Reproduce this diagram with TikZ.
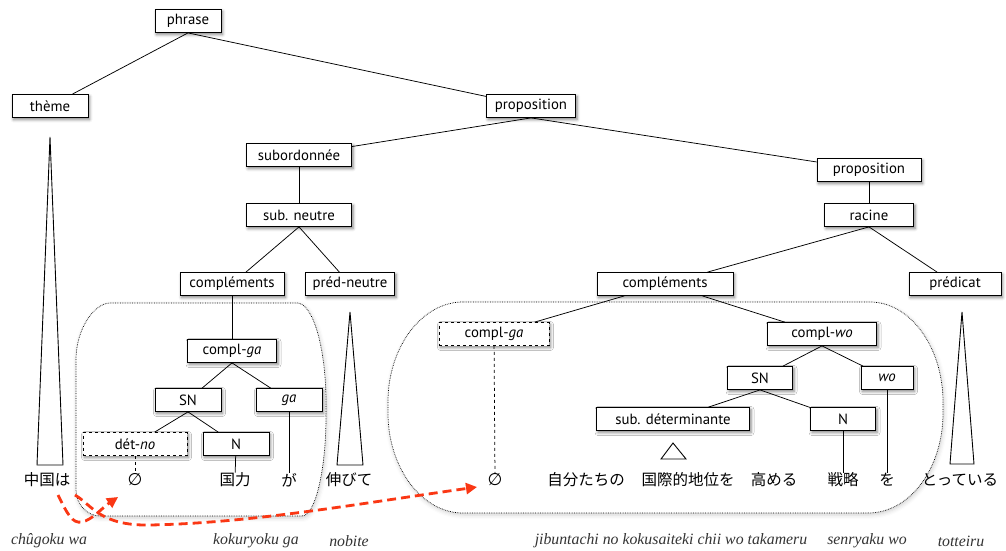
\documentclass[tikz,border=0pt]{standalone}
\usepackage{fontspec}
\setmainfont{PT Sans}
\newfontfamily\jfont{Noto Sans CJK JP}
\newfontfamily\romfont{Liberation Serif}
\newfontfamily\symfont{DejaVu Sans}
\usetikzlibrary{arrows.meta,shadows.blur}
\definecolor{arrred}{RGB}{250,55,20}
\begin{document}
\begin{tikzpicture}[x=1pt,y=-1pt,
  box/.style={draw, fill=white, line width=0.8pt, minimum height=23pt, inner sep=0pt,
    font=\fontsize{14.8}{16}\selectfont,
    blur shadow={shadow xshift=1.5pt, shadow yshift=-2pt, shadow blur radius=3pt, shadow opacity=50}},
  dbox/.style={box, dashed},
  jp/.style={font=\jfont\fontsize{15.5}{17}\selectfont, inner sep=0pt},
  emp/.style={font=\symfont\fontsize{17}{18}\selectfont, inner sep=0pt},
  rom/.style={font=\romfont\itshape\fontsize{15.8}{17}\selectfont, inner sep=0pt, text=black!80},
  edge/.style={line width=0.75pt},
  dedge/.style={line width=0.75pt, dashed},
  tri/.style={draw, fill=white, line width=0.9pt, line join=miter},
  region/.style={draw, densely dotted, line width=0.7pt, fill=white,
    blur shadow={shadow xshift=1pt, shadow yshift=-2pt, shadow blur radius=4pt, shadow opacity=18}},
  redarrow/.style={draw=arrred, line width=2.8pt, dash pattern=on 9pt off 5pt,
    -{Triangle[length=11pt,width=11pt]}}
]
\useasboundingbox (0,0) rectangle (1006,551);

% dashed regions
\path[region] (110,303) -- (297,303)
  .. controls (313,303) and (326,348) .. (326,403)
  -- (326,416)
  .. controls (326,471) and (315,516) .. (302,516)
  -- (100,516)
  .. controls (87,516) and (76,504) .. (76,490)
  -- (76,360)
  .. controls (76,328) and (95,303) .. (110,303) -- cycle;
\path[region] (463,302) -- (870,302)
  .. controls (910,302) and (943,347) .. (943,402)
  -- (943,413)
  .. controls (943,468) and (910,513) .. (868,513)
  -- (463,513)
  .. controls (422,513) and (388,468) .. (388,413)
  -- (388,402)
  .. controls (388,347) and (422,302) .. (463,302) -- cycle;

% triangles
\path[tri] (50,137) -- (63,465) -- (37,465) -- cycle;
\path[tri] (350,312) -- (363,465) -- (337,465) -- cycle;
\path[tri] (962,312) -- (974,464) -- (950,464) -- cycle;
\path[tri] (673,443) -- (686,459) -- (661,459) -- cycle;

% boxes
\node[box, minimum width=66pt] (phrase) at (188,21) {phrase};
\node[box, minimum width=76pt] (theme) at (50,106) {thème};
\node[box, minimum width=89pt] (prop1) at (531,106) {proposition};
\node[box, minimum width=105pt] (sub) at (299,155) {subordonnée};
\node[box, minimum width=105pt] (subn) at (299,215) {sub. neutre};
\node[box, minimum width=104pt] (complL) at (232,284) {compléments};
\node[box, minimum width=89pt] (predn) at (350,284) {préd-neutre};
\node[box, minimum width=104pt] (prop2) at (869,170) {proposition};
\node[box, minimum width=89pt] (racine) at (869,215) {racine};
\node[box, minimum width=136pt] (complR) at (665,284) {compléments};
\node[box, minimum width=92pt] (predicat) at (955,284) {prédicat};
\node[box, minimum width=89pt] (complgaL) at (232,351) {compl-\textit{ga}};
\node[box, minimum width=66pt] (SNL) at (188,400) {SN};
\node[box, minimum width=66pt] (gaL) at (289,400) {\textit{ga}};
\node[dbox, minimum width=104pt] (detno) at (135,444) {dét-\textit{no}};
\node[box, minimum width=66pt] (NL) at (236,444) {N};
\node[dbox, minimum width=110pt] (complgaR) at (494,334) {compl-\textit{ga}};
\node[box, minimum width=109pt] (complwo) at (822,334) {compl-\textit{wo}};
\node[box, minimum width=65pt] (SNR) at (760,378) {SN};
\node[box, minimum width=52pt] (woB) at (887,378) {\textit{wo}};
\node[box, minimum width=153pt] (subdet) at (673,419) {sub. déterminante};
\node[box, minimum width=65pt] (NR) at (843,419) {N};

% words
\node[jp] (chugoku) at (47,480) {中国は};
\node[emp] (emptyL) at (135,480) {∅};
\node[jp] (kokuryoku) at (235,480) {国力};
\node[jp] (gaJ) at (289,480) {が};
\node[jp] (nobite) at (349,480) {伸びて};
\node[emp] (emptyR) at (495,480) {∅};
\node[jp] (jibun) at (586,480) {自分たちの};
\node[jp] (kokusai) at (688,480) {国際的地位を};
\node[jp] (takameru) at (774,480) {高める};
\node[jp] (senryaku) at (843,480) {戦略};
\node[jp] (woJ) at (887,480) {を};
\node[jp] (totteiru) at (960,480) {とっている};

% romanisations
\node[rom] (r1) at (49,541) {chûgoku wa};
\node[rom] (r2) at (256,541) {kokuryoku ga};
\node[rom] (r3) at (349,541) {nobite};
\node[rom] (r4) at (671,541) {jibuntachi no kokusaiteki chii wo takameru};
\node[rom] (r5) at (867,541) {senryaku wo};
\node[rom] (r6) at (961,541) {totteiru};

% connectors
\draw[edge] (phrase.south) -- (theme);
\draw[edge] (phrase.south) -- (prop1);
\draw[edge] (prop1.south) -- (sub);
\draw[edge] (prop1.south) -- (prop2);
\draw[edge] (sub) -- (subn);
\draw[edge] (subn.south) -- (complL);
\draw[edge] (subn.south) -- (predn);
\draw[edge] (complL) -- (complgaL);
\draw[edge] (complgaL.south) -- (SNL);
\draw[edge] (complgaL.south) -- (gaL);
\draw[edge] (SNL.south) -- (detno);
\draw[edge] (SNL.south) -- (NL);
\draw[dedge] (detno) -- (emptyL);
\draw[edge] (NL) -- (kokuryoku);
\draw[edge] (gaL) -- (gaJ);
\draw[edge] (prop2) -- (racine);
\draw[edge] (racine.south) -- (complR);
\draw[edge] (racine.south) -- (predicat);
\draw[edge] (complR) -- (complgaR);
\draw[edge] (complR) -- (complwo);
\draw[dedge] (complgaR) -- (emptyR);
\draw[edge] (complwo.south) -- (SNR);
\draw[edge] (complwo.south) -- (woB);
\draw[edge] (SNR.south) -- (subdet);
\draw[edge] (SNR.south) -- (NR);
\draw[edge] (NR) -- (senryaku);
\draw[edge] (woB) -- (woJ);

% red arrows
\coordinate (a1s) at (58,495);
\coordinate (a1e) at (118,497);
\coordinate (a2s) at (75,495);
\coordinate (a2e) at (477,487);
\draw[redarrow] (a1s) .. controls (67,513) and (72,524) .. (82,522)
  .. controls (92,520) and (102,508) .. (a1e);
\draw[redarrow] (a2s) .. controls (92,505) and (100,526) .. (150,525)
  .. controls (250,523) and (350,505) .. (a2e);
\end{tikzpicture}
\end{document}
